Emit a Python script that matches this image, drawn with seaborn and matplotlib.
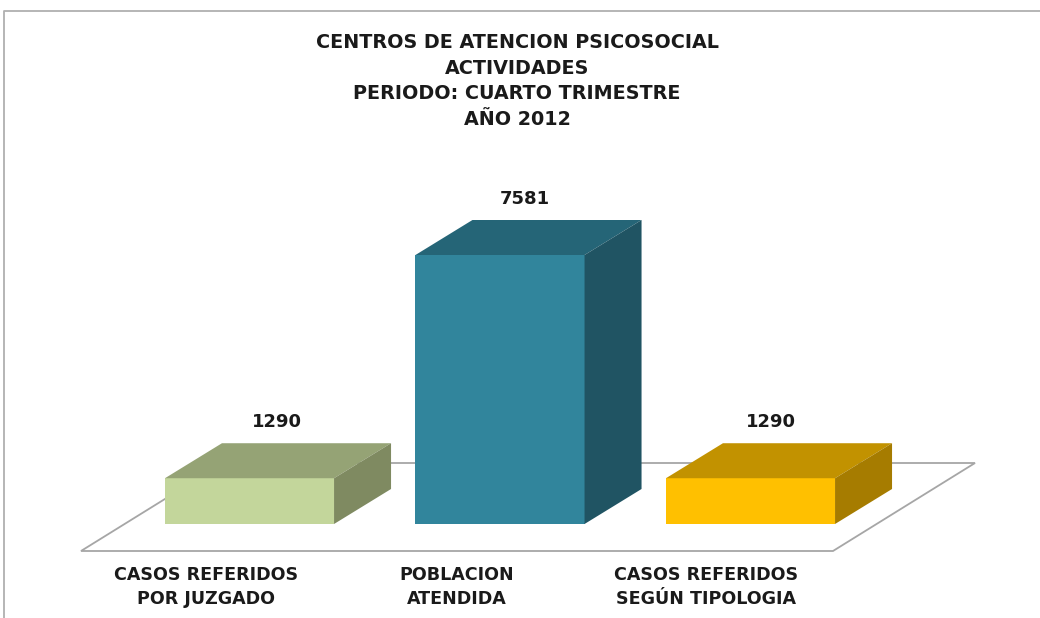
import numpy as np
import pandas as pd
import matplotlib
matplotlib.use('Agg')
import matplotlib.pyplot as plt
from matplotlib.patches import Polygon
import seaborn as sns

categories = ['CASOS REFERIDOS\nPOR JUZGADO', 'POBLACION\nATENDIDA', 'CASOS REFERIDOS\nSEGÚN TIPOLOGIA']
values = [1290, 7581, 1290]
front_colors = ['#C3D69B', '#31859C', '#FFC000']
top_colors = ['#95A375', '#256577', '#C29200']
side_colors = ['#7F8A61', '#205463', '#A67C00']
title_lines = ['CENTROS DE ATENCION PSICOSOCIAL', 'ACTIVIDADES',
               'PERIODO: CUARTO TRIMESTRE', 'AÑO 2012']

W, H = 1040, 618
DEPTH_X, DEPTH_Y = 57, 35  # oblique offset of the fake 3d, in pixels
UNITS_PER_PX = 7581 / 269
BASE_Y = 524
STEP = 250.5

sns.set_theme(style='white')
plt.rcParams['font.family'] = ['DejaVu Sans']

fig = plt.figure(figsize=(W / 100, H / 100), dpi=100)
ax = fig.add_axes([0, 0, 1, 1])

df = pd.DataFrame({'cat': categories, 'value': values})
sns.barplot(data=df, x='cat', y='value', hue='cat', palette=front_colors,
            legend=False, width=0.675, saturation=1, linewidth=0, ax=ax, zorder=3)

# first bar centred on x=249.5 px
ax.set_xlim(-249.5 / STEP, (W - 249.5) / STEP)
ax.set_ylim(-(H - BASE_Y) * UNITS_PER_PX, BASE_Y * UNITS_PER_PX)
ax.axis('off')

dx = DEPTH_X / STEP
dy = DEPTH_Y * UNITS_PER_PX

# floor and outer frame in pixel coordinates
to_fig = lambda pts: [(x / W, 1 - y / H) for x, y in pts]
floor = Polygon(to_fig([(81, 551), (833, 551), (975, 463), (223, 463)]),
                closed=True, fc='white', ec='#A6A6A6', lw=1.3,
                transform=fig.transFigure, zorder=1)
ax.add_patch(floor)
fig.add_artist(plt.Line2D(*zip(*to_fig([(4, H), (4, 11), (W, 11)])),
                          color='#B0B0B0', lw=1.3))

label_shift = [27.5, 24.5, 20.5]
for bar, val, tc, sc, shift in zip(ax.patches[:3], values, top_colors, side_colors, label_shift):
    x0 = bar.get_x()
    x1 = x0 + bar.get_width()
    top = Polygon([(x0, val), (x1, val), (x1 + dx, val + dy), (x0 + dx, val + dy)],
                  fc=tc, ec='none', zorder=3)
    side = Polygon([(x1, 0), (x1 + dx, dy), (x1 + dx, val + dy), (x1, val)],
                   fc=sc, ec='none', zorder=3)
    ax.add_patch(top)
    ax.add_patch(side)
    ax.text((x0 + x1) / 2 + shift / STEP, val + 56 * UNITS_PER_PX, str(val),
            ha='center', va='center', fontsize=13, fontweight='bold', color='#1A1A1A')

cat_shift = [-43.5, -43.5, -44]
for i, (cat, shift) in enumerate(zip(categories, cat_shift)):
    ax.text(i + shift / STEP, -(587 - BASE_Y) * UNITS_PER_PX, cat, ha='center', va='center',
            fontsize=12.6, fontweight='bold', color='#1A1A1A', linespacing=1.38)

for line, y in zip(title_lines, [48, 74, 99, 125]):
    fig.text(517 / W, 1 - y / H, line, ha='center', va='baseline', fontsize=13.8,
             fontweight='bold', color='#1A1A1A')

fig.savefig('out.png', dpi=100, facecolor='white')
